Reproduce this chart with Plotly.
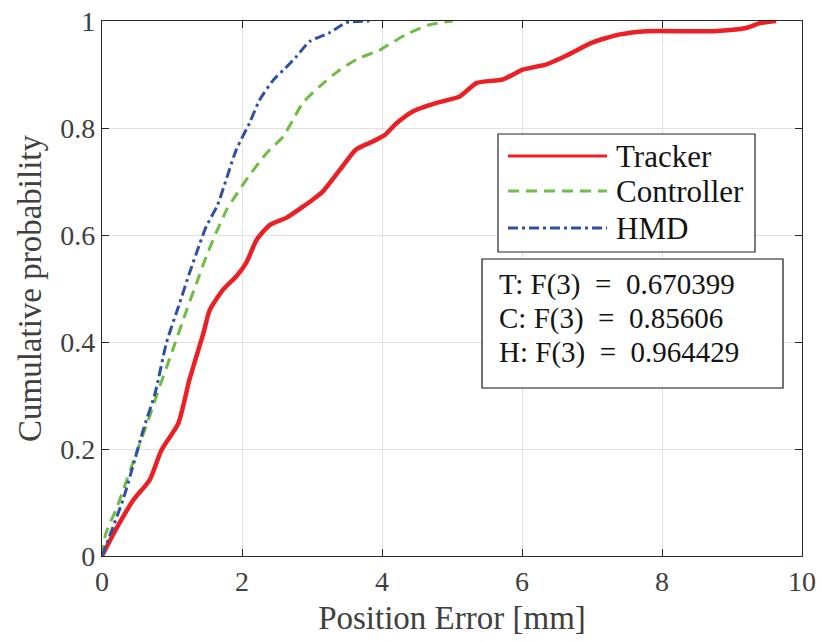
import plotly.graph_objects as go

# Empirical CDF of position error, sampled along each curve
tracker_x = [0, 0.2, 0.45, 0.68, 0.85, 1.09, 1.25, 1.45, 1.54, 1.73, 1.92, 2.06, 2.21, 2.40, 2.63,
             2.87, 3.01, 3.16, 3.40, 3.63, 3.87, 4.05, 4.20, 4.44, 4.78, 5.11, 5.35, 5.73, 6.01,
             6.35, 6.63, 7.01, 7.40, 7.78, 8.73, 9.20, 9.40, 9.63]
tracker_y = [0, 0.05, 0.105, 0.142, 0.198, 0.248, 0.33, 0.417, 0.46, 0.498, 0.523, 0.548, 0.591,
             0.619, 0.632, 0.653, 0.666, 0.682, 0.722, 0.760, 0.775, 0.788, 0.808, 0.831, 0.847,
             0.859, 0.884, 0.891, 0.909, 0.919, 0.935, 0.960, 0.975, 0.981, 0.981, 0.987, 0.996, 1.0]

controller_x = [0, 0.05, 0.11, 0.21, 0.49, 0.68, 0.78, 1.01, 1.21, 1.35, 1.49, 1.63, 1.78, 1.87,
                2.06, 2.35, 2.59, 2.73, 2.87, 3.11, 3.40, 3.68, 3.96, 4.06, 4.35, 4.68, 5.01]
controller_y = [0, 0.04, 0.06, 0.09, 0.192, 0.261, 0.30, 0.385, 0.46, 0.51, 0.56, 0.604, 0.647,
                0.666, 0.703, 0.753, 0.784, 0.816, 0.847, 0.878, 0.909, 0.931, 0.945, 0.953,
                0.975, 0.993, 1.0]

hmd_x = [0, 0.30, 0.44, 0.59, 0.76, 0.92, 1.11, 1.25, 1.40, 1.49, 1.65, 1.92, 2.11, 2.25, 2.45,
         2.62, 2.78, 2.97, 3.25, 3.49, 3.82]
hmd_y = [0, 0.105, 0.167, 0.236, 0.305, 0.398, 0.473, 0.529, 0.585, 0.616, 0.656, 0.760, 0.810,
         0.852, 0.890, 0.912, 0.934, 0.962, 0.978, 0.997, 1.0]

series_names = ["Tracker", "Controller", "HMD"]
summary_lines = ["T: F(3) = 0.670399", "C: F(3) = 0.85606", "H: F(3) = 0.964429"]
x_ticks = [0, 2, 4, 6, 8, 10]
y_ticks = [0, 0.2, 0.4, 0.6, 0.8, 1]

RED = "rgb(236,32,36)"
GREEN = "rgb(108,190,69)"
BLUE = "rgb(46,80,166)"
FONT = "Liberation Serif"
styles = [
    dict(color=RED, width=4.5, dash="solid"),
    dict(color=GREEN, width=3, dash="11px,7px"),
    dict(color=BLUE, width=3, dash="10px,4px,3px,4px"),
]

fig = go.Figure()
for name, xs, ys, st in zip(series_names, [tracker_x, controller_x, hmd_x],
                            [tracker_y, controller_y, hmd_y], styles):
    fig.add_trace(go.Scatter(x=xs, y=ys, mode="lines", name=name,
                             line=dict(shape="spline", smoothing=0.6, **st), showlegend=False))

# Figure geometry (pixels) used to place the legend and the summary box in paper coordinates
L, R, T, B = 102, 802, 21, 556
def px(x):
    return (x - L) / (R - L)
def py(y):
    return (B - y) / (B - T)

shapes = []
annotations = []

# Legend box
shapes.append(dict(type="rect", xref="paper", yref="paper", x0=px(498), x1=px(755), y0=py(252), y1=py(134),
                   line=dict(color="rgb(38,38,38)", width=1.2), fillcolor="white", layer="above"))
for i, (name, st) in enumerate(zip(series_names, styles)):
    yy = [156, 191, 228][i]
    shapes.append(dict(type="line", xref="paper", yref="paper", x0=px(508), x1=px(607), y0=py(yy), y1=py(yy),
                       line=dict(color=st["color"], width=3, dash=st["dash"]), layer="above"))
    annotations.append(dict(xref="paper", yref="paper", x=px(614), y=py(yy), text=name, showarrow=False,
                            xanchor="left", yanchor="middle", font=dict(family=FONT, size=31, color="rgb(20,20,20)")))

# Summary box
shapes.append(dict(type="rect", xref="paper", yref="paper", x0=px(482), x1=px(783), y0=py(388), y1=py(259),
                   line=dict(color="rgb(20,20,20)", width=1.2), fillcolor="white", layer="above"))
for i, line in enumerate(summary_lines):
    yy = [284, 318, 352][i]
    annotations.append(dict(xref="paper", yref="paper", x=px(497), y=py(yy), text=line.replace(" = ", "  =  "),
                            showarrow=False, xanchor="left", yanchor="middle",
                            font=dict(family=FONT, size=29, color="rgb(20,20,20)")))

axis_common = dict(showline=True, mirror="ticks", linecolor="rgb(38,38,38)", linewidth=1.2,
                   ticks="inside", ticklen=7, tickcolor="rgb(38,38,38)", automargin=False,
                   showgrid=True, gridcolor="rgb(225,225,225)", gridwidth=1.2, zeroline=False,
                   tickfont=dict(family=FONT, size=28, color="rgb(64,64,64)"))

fig.update_layout(
    width=822, height=641,
    margin=dict(l=L, r=822 - R, t=T, b=641 - B),
    paper_bgcolor="white", plot_bgcolor="white",
    xaxis=dict(range=[0, 10], tickvals=x_ticks, ticktext=[str(v) for v in x_ticks],
               title=dict(text="Position Error [mm]", standoff=10,
                          font=dict(family=FONT, size=33, color="rgb(64,64,64)")), **axis_common),
    yaxis=dict(range=[0, 1], tickvals=y_ticks, ticktext=["0", "0.2", "0.4", "0.6", "0.8", "1"],
               title=dict(text="Cumulative probability", standoff=8,
                          font=dict(family=FONT, size=33, color="rgb(64,64,64)")), **axis_common),
    shapes=shapes,
    annotations=annotations,
)

fig.write_html("out.html")
